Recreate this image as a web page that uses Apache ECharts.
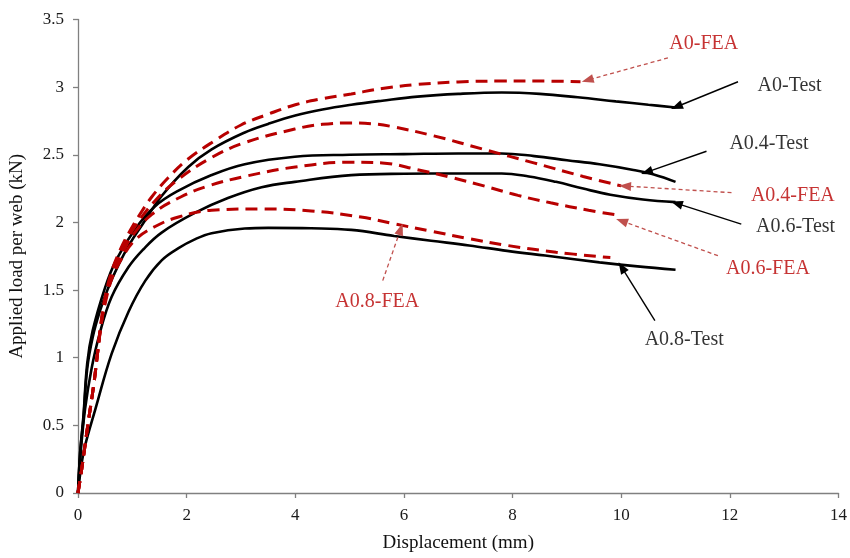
<!DOCTYPE html>
<html>
<head>
<meta charset="utf-8">
<script src="https://cdn.jsdelivr.net/npm/echarts@6/dist/echarts.min.js"></script>
<style>
  html, body { margin: 0; padding: 0; background: #fff; }
  #chart { width: 850px; height: 558px; }
</style>
</head>
<body>
<div id="chart"></div>
<script>
// Load–displacement curves: [displacement (mm), applied load per web (kN)]
const a0Test = [[0,0],[0.04,0.3],[0.1,0.55],[0.17,0.92],[0.27,1.15],[0.4,1.34],[0.55,1.51],[0.75,1.69],[0.95,1.84],[1.17,1.975],[1.54,2.195],[2.03,2.41],[2.46,2.54],[3.07,2.665],[3.5,2.728],[4.0,2.79],[4.5,2.835],[5.03,2.87],[5.6,2.9],[6.25,2.93],[7.0,2.95],[7.8,2.96],[8.5,2.95],[9.2,2.925],[9.9,2.895],[10.5,2.87],[11,2.85]];
const a04Test = [[0,0],[0.04,0.3],[0.1,0.57],[0.17,0.96],[0.27,1.2],[0.5,1.52],[0.7,1.72],[1.05,1.95],[1.42,2.12],[1.85,2.235],[2.46,2.35],[3.07,2.43],[3.99,2.485],[5.0,2.5],[6.0,2.505],[7.0,2.51],[7.8,2.51],[8.4,2.49],[9.0,2.46],[9.6,2.43],[10.2,2.39],[10.6,2.355],[11,2.3]];
const a06Test = [[0,0],[0.05,0.3],[0.13,0.62],[0.25,0.92],[0.4,1.18],[0.62,1.45],[0.93,1.67],[1.2,1.8],[1.54,1.925],[2.15,2.07],[2.76,2.18],[3.38,2.26],[3.99,2.30],[5.03,2.35],[6.0,2.36],[7.0,2.362],[7.8,2.362],[8.3,2.34],[8.8,2.3],[9.3,2.25],[9.8,2.205],[10.4,2.17],[11,2.15]];
const a08Test = [[0,0],[0.06,0.2],[0.13,0.35],[0.32,0.62],[0.62,1.03],[0.93,1.34],[1.24,1.57],[1.54,1.72],[1.85,1.81],[2.15,1.875],[2.46,1.92],[3.07,1.955],[3.5,1.96],[4.29,1.957],[5.03,1.945],[5.82,1.90],[6.5,1.865],[7.2,1.83],[7.9,1.79],[8.6,1.755],[9.6,1.705],[10.3,1.675],[11,1.65]];

const a0Fea = [[0,0],[0.07,0.18],[0.18,0.5],[0.29,0.8],[0.35,1.0],[0.43,1.28],[0.5,1.45],[0.62,1.64],[0.78,1.8],[0.96,1.94],[1.14,2.06],[1.36,2.19],[1.66,2.33],[2.0,2.46],[2.5,2.6],[3.0,2.72],[3.5,2.8],[4.0,2.87],[4.5,2.915],[5.03,2.95],[5.6,2.99],[6.25,3.02],[7.0,3.038],[7.78,3.045],[8.5,3.045],[9.25,3.04]];
const a04Fea = [[0,0],[0.07,0.18],[0.18,0.5],[0.29,0.8],[0.35,1.0],[0.43,1.27],[0.5,1.43],[0.62,1.62],[0.78,1.78],[1.05,1.97],[1.42,2.16],[1.85,2.32],[2.46,2.48],[3.07,2.59],[3.99,2.69],[4.5,2.725],[5.03,2.735],[5.4,2.73],[5.76,2.71],[6.55,2.64],[7.47,2.54],[8.39,2.44],[9.3,2.34],[10,2.27]];
const a06Fea = [[0,0],[0.07,0.18],[0.18,0.5],[0.29,0.8],[0.35,1.0],[0.43,1.26],[0.5,1.42],[0.62,1.6],[0.8,1.76],[1.0,1.9],[1.36,2.06],[1.9,2.19],[2.4,2.27],[3.07,2.34],[4.0,2.41],[5.0,2.445],[5.6,2.44],[6.25,2.39],[6.9,2.33],[7.47,2.27],[8.1,2.2],[8.7,2.145],[9.4,2.09],[10,2.05]];
const a08Fea = [[0,0],[0.07,0.18],[0.18,0.5],[0.29,0.8],[0.35,1.0],[0.43,1.25],[0.5,1.4],[0.62,1.58],[0.8,1.73],[1.05,1.87],[1.42,1.97],[1.85,2.04],[2.46,2.09],[3.38,2.10],[4.29,2.085],[5.21,2.04],[5.82,1.99],[6.5,1.935],[7.2,1.88],[7.9,1.83],[8.8,1.78],[9.8,1.74]];

// Axis ticks
const xTicks = [0, 2, 4, 6, 8, 10, 12, 14];
const yTicks = [0, 0.5, 1, 1.5, 2, 2.5, 3, 3.5];

const testNames = ['A0-Test', 'A0.4-Test', 'A0.6-Test', 'A0.8-Test'];
const feaNames = ['A0-FEA', 'A0.4-FEA', 'A0.6-FEA', 'A0.8-FEA'];

const FONT = '"Liberation Serif", "Times New Roman", serif';
const BLACK = '#000000';
const RED = '#b80000';
const ARROW_RED = '#c0504d';

// Callouts: label position and arrow (tail -> head), in data units
const callouts = [
  { name: 'A0-FEA',    fea: true,  text: [11.52, 3.32], from: [10.86, 3.216], to: [9.38, 3.052] },
  { name: 'A0-Test',   fea: false, text: [13.1, 3.01],  from: [12.15, 3.04],  to: [11.02, 2.855] },
  { name: 'A0.4-Test', fea: false, text: [12.72, 2.583], from: [11.57, 2.526], to: [10.47, 2.372] },
  { name: 'A0.4-FEA',  fea: true,  text: [13.16, 2.2],  from: [12.03, 2.22],  to: [10.07, 2.269] },
  { name: 'A0.6-Test', fea: false, text: [13.21, 1.97], from: [12.21, 1.987], to: [11.02, 2.141] },
  { name: 'A0.6-FEA',  fea: true,  text: [12.7, 1.656], from: [11.78, 1.754], to: [10.01, 2.011] },
  { name: 'A0.8-Test', fea: false, text: [11.16, 1.133], from: [10.62, 1.275], to: [10.01, 1.668] },
  { name: 'A0.8-FEA',  fea: true,  text: [5.51, 1.416], from: [5.61, 1.57],  to: [5.94, 1.95] }
];

function curve(name, data, isFea) {
  return {
    name: name,
    type: 'line',
    data: data,
    smooth: 0.4,
    showSymbol: false,
    symbol: 'none',
    silent: true,
    z: isFea ? 3 : 2,
    lineStyle: isFea
      ? { color: RED, width: 3, type: [12, 7] }
      : { color: BLACK, width: 2.6 }
  };
}

const arrowLines = callouts.map(c => [
  {
    coord: c.from,
    symbol: 'none',
    lineStyle: c.fea
      ? { color: ARROW_RED, width: 1.3, type: [4, 3] }
      : { color: BLACK, width: 1.4, type: 'solid' }
  },
  {
    coord: c.to,
    symbol: 'triangle',
    symbolSize: [9, 12],
    itemStyle: { color: c.fea ? ARROW_RED : BLACK }
  }
]);

const chart = echarts.init(document.getElementById('chart'), null, { renderer: 'canvas' });
chart.setOption({
  animation: false,
  backgroundColor: '#ffffff',
  textStyle: { fontFamily: FONT },
  grid: { left: 76, right: 11, top: 19.5, bottom: 63, containLabel: false },
  xAxis: {
    type: 'value',
    min: xTicks[0],
    max: xTicks[xTicks.length - 1],
    interval: xTicks[1] - xTicks[0],
    name: 'Displacement (mm)',
    nameLocation: 'middle',
    nameGap: 41,
    nameTextStyle: { fontFamily: FONT, fontSize: 19, color: '#111' },
    axisLine: { lineStyle: { color: '#808080', width: 1.3 } },
    axisTick: { show: true, length: 5, lineStyle: { color: '#808080', width: 1.3 } },
    axisLabel: { fontFamily: FONT, fontSize: 17, color: '#1a1a1a', margin: 14 },
    splitLine: { show: false }
  },
  yAxis: {
    type: 'value',
    min: yTicks[0],
    max: yTicks[yTicks.length - 1],
    interval: yTicks[1] - yTicks[0],
    name: 'Applied load per web (kN)',
    nameLocation: 'middle',
    nameRotate: 90,
    nameGap: 51,
    nameTextStyle: { fontFamily: FONT, fontSize: 19, color: '#111' },
    axisLine: { show: true, lineStyle: { color: '#808080', width: 1.3 } },
    axisTick: { show: true, length: 5, lineStyle: { color: '#808080', width: 1.3 } },
    axisLabel: { fontFamily: FONT, fontSize: 17, color: '#1a1a1a', margin: 14 },
    splitLine: { show: false }
  },
  series: [
    curve(testNames[0], a0Test, false),
    curve(testNames[1], a04Test, false),
    curve(testNames[2], a06Test, false),
    curve(testNames[3], a08Test, false),
    curve(feaNames[0], a0Fea, true),
    curve(feaNames[1], a04Fea, true),
    curve(feaNames[2], a06Fea, true),
    curve(feaNames[3], a08Fea, true),
    {
      name: 'arrows',
      type: 'line',
      data: [],
      silent: true,
      z: 4,
      markLine: {
        silent: true,
        animation: false,
        symbol: ['none', 'triangle'],
        label: { show: false },
        emphasis: { disabled: true },
        data: arrowLines
      }
    },
    {
      name: 'labels',
      type: 'scatter',
      silent: true,
      symbolSize: 0,
      z: 5,
      data: callouts.map(c => ({
        name: c.name,
        value: c.text,
        label: { color: c.fea ? RED : BLACK }
      })),
      label: {
        show: true,
        position: 'inside',
        formatter: '{b}',
        fontFamily: FONT,
        fontSize: 20
      }
    }
  ]
});
</script>
</body>
</html>
